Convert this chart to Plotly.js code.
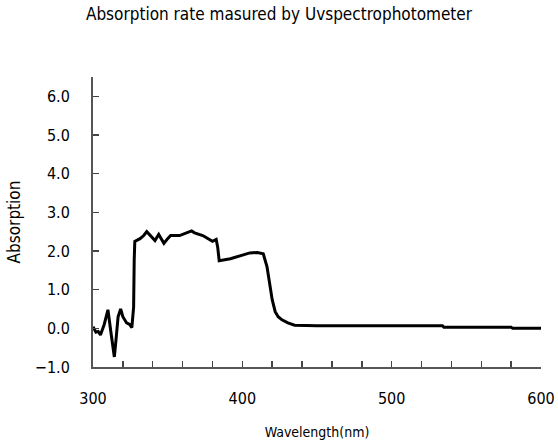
<!DOCTYPE html>
<html>
<head>
<meta charset="utf-8">
<script src="https://cdn.plot.ly/plotly-3.0.1.min.js"></script>
<style>html,body{margin:0;padding:0;background:#fff;}#chart{width:558px;height:445px;}</style>
</head>
<body>
<div id="chart"></div>
<script>
const wavelength = [300, 302, 303.5, 305, 307.5, 310, 312, 313.5, 314.3, 315.4, 316.8, 318.5, 320, 322.5, 324.5, 326, 327.2, 327.6, 328, 331.5, 334, 336, 339.5, 341.5, 344, 347.5, 350, 352, 358, 363, 366, 368, 370, 373.5, 380, 382.5, 383.5, 384.5, 392, 398.5, 405, 410, 412.5, 414, 416.5, 418, 420, 422, 424, 426.5, 430.5, 435, 450, 500, 534, 535, 580, 581, 600];
const absorption = [0.04, -0.1, -0.08, -0.17, 0.1, 0.48, -0.1, -0.48, -0.74, -0.3, 0.3, 0.5, 0.3, 0.14, 0.1, 0.02, 0.55, 1.78, 2.25, 2.32, 2.4, 2.5, 2.37, 2.27, 2.43, 2.2, 2.32, 2.4, 2.4, 2.47, 2.52, 2.47, 2.45, 2.4, 2.25, 2.3, 2.1, 1.75, 1.8, 1.88, 1.95, 1.96, 1.95, 1.93, 1.6, 1.18, 0.74, 0.43, 0.3, 0.22, 0.14, 0.08, 0.07, 0.07, 0.07, 0.03, 0.03, 0.0, 0.0];
const xTickVals = [300, 400, 500, 600];
const yTickVals = [-1, 0, 1, 2, 3, 4, 5, 6];

const fontFam = '"DejaVu Sans Condensed", "DejaVu Sans", sans-serif';

Plotly.newPlot('chart', [{
  x: wavelength,
  y: absorption,
  type: 'scatter',
  mode: 'lines',
  line: {color: '#000', width: 3},
  hoverinfo: 'none'
}], {
  width: 558,
  height: 445,
  margin: {l: 93, r: 17, t: 77, b: 78},
  paper_bgcolor: '#fff',
  plot_bgcolor: '#fff',
  showlegend: false,
  title: {
    text: 'Absorption rate masured by Uvspectrophotometer',
    font: {family: fontFam, size: 17, color: '#000'},
    x: 0.5, xanchor: 'center', y: 0.968, yanchor: 'middle'
  },
  xaxis: {
    range: [300, 600],
    tickvals: xTickVals,
    ticktext: xTickVals.map(String),
    ticks: 'inside', ticklen: 6, tickwidth: 1.5, tickcolor: '#444',
    minor: {dtick: 20, ticks: 'inside', ticklen: 6, tickwidth: 1.5, tickcolor: '#444', showgrid: false},
    showline: true, linecolor: '#555', linewidth: 2,
    showgrid: false, zeroline: false,
    ticklabelstandoff: 16,
    tickfont: {family: fontFam, size: 16, color: '#000'},
    title: {text: 'Wavelength(nm)', font: {family: fontFam, size: 14, color: '#000'}, standoff: 20}
  },
  yaxis: {
    range: [-1, 6.5],
    tickvals: yTickVals,
    tickformat: '.1f',
    ticks: 'inside', ticklen: 6, tickwidth: 1.5, tickcolor: '#444',
    showline: true, linecolor: '#555', linewidth: 2,
    showgrid: false, zeroline: false,
    ticklabelstandoff: 18,
    tickfont: {family: fontFam, size: 16, color: '#000'},
    title: {text: 'Absorption', font: {family: fontFam, size: 17, color: '#000'}, standoff: 10}
  }
}, {displayModeBar: false, staticPlot: true});
</script>
</body>
</html>
